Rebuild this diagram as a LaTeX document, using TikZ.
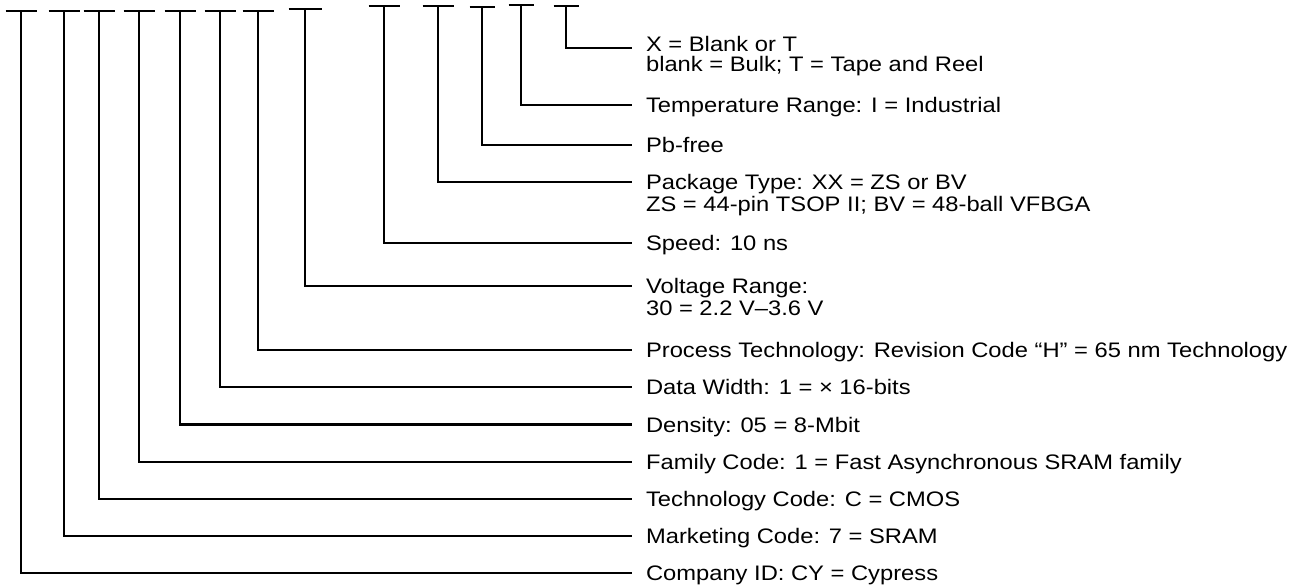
\documentclass[tikz,border=0pt]{standalone}
\usepackage{fontspec}
\setmainfont{Liberation Sans}[FakeStretch=1.13]
\begin{document}
\begin{tikzpicture}[x=1pt,y=-1pt,line width=2.1pt,
  lbl/.style={inner sep=0pt,anchor=west,text height=15pt,text depth=0pt,font=\fontsize{21}{22}\selectfont},
  gap/.style={xshift=-13pt}]
\useasboundingbox (0,0) rectangle (1301,585);
% T-heads
\coordinate (t1) at (21,11);
\coordinate (t2) at (64,11);
\coordinate (t3) at (99,11);
\coordinate (t4) at (139,11);
\coordinate (t5) at (180,11);
\coordinate (t6) at (220,11);
\coordinate (t7) at (258,11);
\coordinate (t8) at (305,9);
\coordinate (t9) at (384,6);
\coordinate (t10) at (438,6);
\coordinate (t11) at (482,7);
\coordinate (t12) at (521,5);
\coordinate (t13) at (566,6);
\foreach \t in {t1,t2,t3,t4,t5,t6,t7,t9,t10}{\draw (\t) ++(-15.5,0) -- ++(31,0);}
\draw (t8) ++(-16.5,0) -- ++(33,0);
\foreach \t in {t11,t12,t13}{\draw (\t) ++(-12.5,0) -- ++(25,0);}
% labels
\node[lbl] (xa) at (645,44) {X = Blank or T};
\node[lbl] (xb) at (645,64.5) {blank = Bulk; T = Tape and Reel};
\node[lbl] (tr) at (645,105) {Temperature Range: I = Industrial};
\node[lbl] (pb) at (645,145) {Pb-free};
\node[lbl] (pa) at (645,182) {Package Type: XX = ZS or BV};
\node[lbl] (pb2) at (645,204) {ZS = 44-pin TSOP II; BV = 48-ball VFBGA};
\node[lbl] (sp) at (645,243) {Speed: 10 ns};
\node[lbl] (va) at (645,286) {Voltage Range:};
\node[lbl] (vb) at (645,308) {30 = 2.2 V–3.6 V};
\node[lbl] (pt) at (645,350) {Process Technology: Revision Code “H” = 65 nm Technology};
\node[lbl] (dw) at (645,387) {Data Width: 1 = × 16-bits};
\node[lbl] (de) at (645,424.5) {Density: 05 = 8-Mbit};
\node[lbl] (fc) at (645,462) {Family Code: 1 = Fast Asynchronous SRAM family};
\node[lbl] (tc) at (645,499) {Technology Code: C = CMOS};
\node[lbl] (mc) at (645,536) {Marketing Code: 7 = SRAM};
\node[lbl] (co) at (645,573) {Company ID: CY = Cypress};
% leaders
\draw (t13) |- ([gap,yshift=-4pt]xa.west);
\draw (t12) |- ([gap]tr.west);
\draw (t11) |- ([gap]pb.west);
\draw (t10) |- ([gap]pa.west);
\draw (t9) |- ([gap]sp.west);
\draw (t8) |- ([gap]va.west);
\draw (t7) |- ([gap]pt.west);
\draw (t6) |- ([gap]dw.west);
\draw (t5) |- ([gap]de.west);
\draw (t4) |- ([gap]fc.west);
\draw (t3) |- ([gap]tc.west);
\draw (t2) |- ([gap]mc.west);
\draw (t1) |- ([gap]co.west);
\end{tikzpicture}
\end{document}
